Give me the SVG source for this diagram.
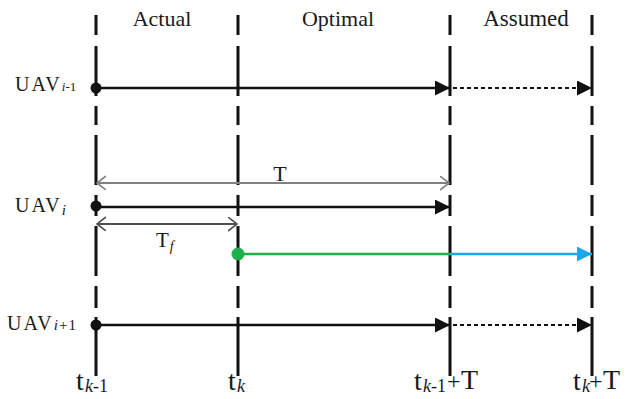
<svg xmlns="http://www.w3.org/2000/svg" width="632" height="399" viewBox="0 0 632 399">
<style>
text{font-family:"Liberation Serif","Times New Roman",serif;fill:#1a1a1a}
.v{stroke:#111;stroke-width:3;fill:none;stroke-dasharray:20 11 50 10 19 10 50 10 21 10 50 10 22 9 59 40}
.h{stroke:#111;stroke-width:2.5;fill:none}
.d{stroke:#111;stroke-width:2;fill:none;stroke-dasharray:4 3}
.g{stroke:#808080;stroke-width:2;fill:none}
.gd{stroke:#505050;stroke-width:2;fill:none}
.i{font-style:italic}
</style>
<defs>
<marker id="ab" markerUnits="userSpaceOnUse" markerWidth="16" markerHeight="16" refX="15" refY="7.5" orient="auto"><path d="M0,0 L15,7.5 L0,15 z" fill="#111"/></marker>
<marker id="abl" markerUnits="userSpaceOnUse" markerWidth="16" markerHeight="16" refX="15" refY="7.5" orient="auto"><path d="M0,0 L15,7.5 L0,15 z" fill="#1aa9e8"/></marker>
<marker id="cg" markerUnits="userSpaceOnUse" markerWidth="12" markerHeight="16" refX="9" refY="7" orient="auto-start-reverse"><path d="M0,0 L9,7 L0,14" fill="none" stroke="#808080" stroke-width="1.6"/></marker>
<marker id="cd" markerUnits="userSpaceOnUse" markerWidth="12" markerHeight="16" refX="9" refY="7" orient="auto-start-reverse"><path d="M0,0 L9,7 L0,14" fill="none" stroke="#505050" stroke-width="1.6"/></marker>
</defs>
<g id="timelines">
<line class="v" x1="96" y1="15" x2="96" y2="376"/>
<line class="v" x1="238" y1="15" x2="238" y2="376"/>
<line class="v" x1="450" y1="15" x2="450" y2="376"/>
<line class="v" x1="592" y1="15" x2="592" y2="376"/>
</g>
<g id="connectors">
<line class="h" x1="96" y1="88" x2="450" y2="88" marker-end="url(#ab)"/>
<line class="d" x1="453" y1="88" x2="592" y2="88" marker-end="url(#ab)"/>
<line class="g" x1="97" y1="183" x2="449" y2="183" marker-start="url(#cg)" marker-end="url(#cg)"/>
<line class="h" x1="96" y1="207" x2="450" y2="207" marker-end="url(#ab)"/>
<line class="gd" x1="97" y1="224" x2="237" y2="224" marker-start="url(#cd)" marker-end="url(#cd)"/>
<line x1="238" y1="254" x2="450" y2="254" stroke="#1db04d" stroke-width="2.5"/>
<line x1="450" y1="254" x2="592" y2="254" stroke="#1aa9e8" stroke-width="2.5" marker-end="url(#abl)"/>
<line class="h" x1="96" y1="325" x2="450" y2="325" marker-end="url(#ab)"/>
<line class="d" x1="453" y1="325" x2="592" y2="325" marker-end="url(#ab)"/>
</g>
<g id="dots">
<circle cx="96" cy="88" r="5.5" fill="#111"/>
<circle cx="96" cy="206" r="5.5" fill="#111"/>
<circle cx="96" cy="325" r="5.5" fill="#111"/>
<circle cx="238" cy="254" r="6.5" fill="#1db04d"/>
</g>
<g id="phase-labels">
<text x="162" y="26" font-size="22" text-anchor="middle">Actual</text>
<text x="338" y="26" font-size="22" text-anchor="middle">Optimal</text>
<text x="526" y="26" font-size="23" text-anchor="middle">Assumed</text>
</g>
<g id="uav-labels">
<text x="15" y="91" font-size="20" letter-spacing="2">UAV<tspan font-size="13" letter-spacing="0" class="i">i</tspan><tspan font-size="13" letter-spacing="0">-1</tspan></text>
<text x="15" y="212" font-size="20" letter-spacing="2">UAV<tspan font-size="15" letter-spacing="0" class="i" dy="3">i</tspan></text>
<text x="7" y="330" font-size="20" letter-spacing="2">UAV<tspan font-size="15" letter-spacing="1" class="i">i</tspan><tspan font-size="15" letter-spacing="1">+1</tspan></text>
</g>
<g id="interval-labels">
<text x="280" y="181" font-size="22" text-anchor="middle">T</text>
<text x="156" y="247" font-size="21">T<tspan font-size="14" class="i" dy="4" dx="1">f</tspan></text>
</g>
<g id="time-labels">
<text x="76" y="390" font-size="28">t</text><text x="85" y="392" font-size="18" class="i">k</text><text x="93" y="392" font-size="18">-1</text>
<text x="228" y="390" font-size="28">t</text><text x="237" y="392" font-size="18" class="i">k</text>
<text x="414" y="390" font-size="28">t</text><text x="423" y="392" font-size="18" class="i">k</text><text x="431" y="392" font-size="18">-1</text><text x="447" y="389" font-size="24">+</text><text x="461" y="389" font-size="28">T</text>
<text x="573" y="390" font-size="28">t</text><text x="582" y="392" font-size="18" class="i">k</text><text x="589" y="389" font-size="24">+</text><text x="603" y="389" font-size="28">T</text>
</g>
</svg>
